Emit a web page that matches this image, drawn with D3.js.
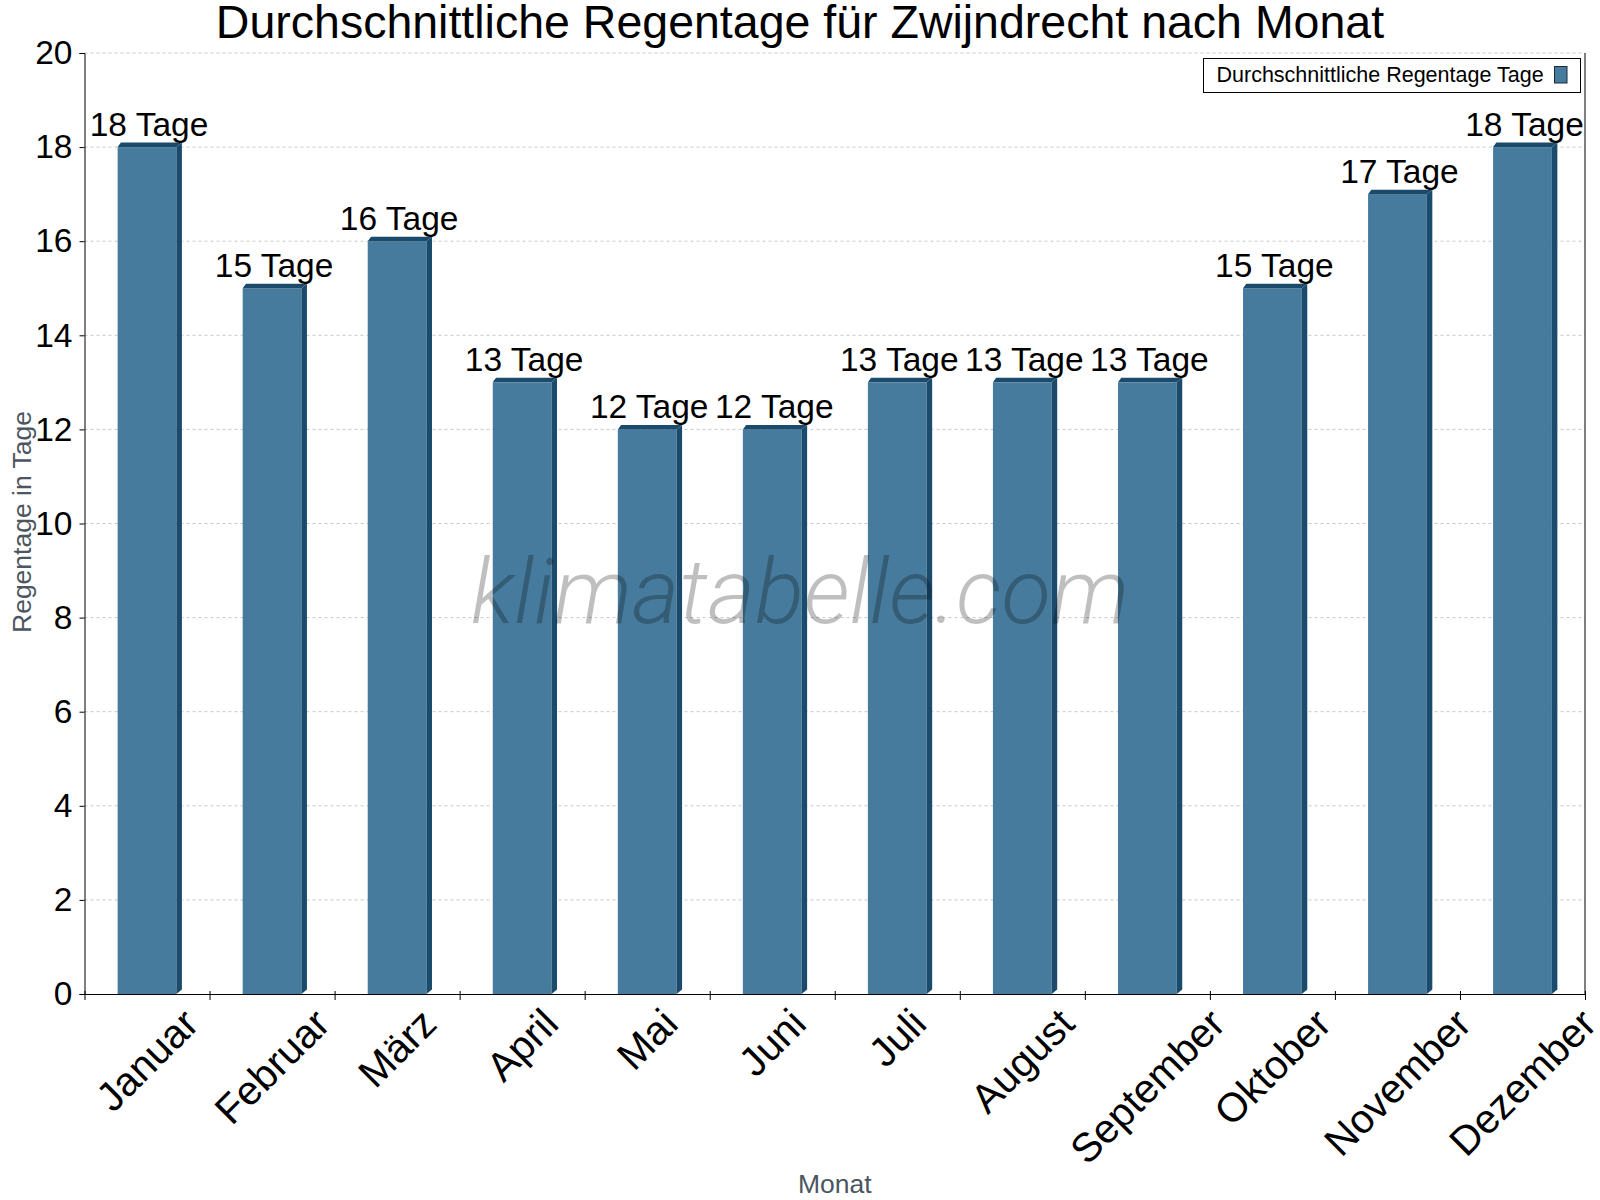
<!DOCTYPE html>
<html>
<head>
<meta charset="utf-8">
<script src="https://cdn.jsdelivr.net/npm/d3@7"></script>
<style>
  body { margin: 0; background: #fff; }
  text { font-family: "Liberation Sans", Arial, sans-serif; }
</style>
</head>
<body>
<svg id="chart"></svg>
<script>
// data
const months = ["Januar", "Februar", "März", "April", "Mai", "Juni", "Juli", "August", "September", "Oktober", "November", "Dezember"];
const rainDays = [18, 15, 16, 13, 12, 12, 13, 13, 13, 15, 17, 18];
const yTicks = [0, 2, 4, 6, 8, 10, 12, 14, 16, 18, 20];
const seriesName = "Durchschnittliche Regentage Tage";

const width = 1600, height = 1200;
const plotLeft = 84.5, plotRight = 1585, plotTop = 53, plotBottom = 994;

const svg = d3.select("#chart").attr("width", width).attr("height", height);

const x = d3.scaleBand().domain(months).range([plotLeft, plotRight]).padding(0);
const xi = d3.scaleLinear().domain([0, months.length]).range([plotLeft, plotRight]);
const y = d3.scaleLinear().domain([0, 20]).range([plotBottom, plotTop]);

const barW = x.bandwidth() * 0.47;
const dx = 5.5, dy = 4.5;   // 3d offset

// grid
svg.append("g").selectAll("line")
  .data(yTicks.filter(d => d > 0))
  .join("line")
  .attr("x1", plotLeft).attr("x2", plotRight)
  .attr("y1", d => y(d)).attr("y2", d => y(d))
  .attr("stroke", "#c8c8c8").attr("stroke-dasharray", "3,3");

// bars
const bars = svg.append("g").selectAll("g").data(rainDays).join("g");
const fl = (d, i) => x(months[i]) + x.bandwidth() / 2 - barW / 2;

bars.append("rect")
  .attr("x", fl)
  .attr("y", d => y(d))
  .attr("width", barW)
  .attr("height", d => plotBottom - y(d))
  .attr("fill", "#467b9d");

bars.append("polygon")
  .attr("points", (d, i) => {
    const r = fl(d, i) + barW, t = y(d);
    return [[r, t], [r + dx, t - dy], [r + dx, plotBottom - dy], [r, plotBottom]].join(" ");
  })
  .attr("fill", "#1a4b6c");

bars.append("polygon")
  .attr("points", (d, i) => {
    const l = fl(d, i), r = l + barW, t = y(d);
    return [[l, t], [l + dx * 0.6, t - dy], [r + dx, t - dy], [r, t]].join(" ");
  })
  .attr("fill", "#1a4b6c");

// value labels
svg.append("g").selectAll("text").data(rainDays).join("text")
  .attr("x", (d, i) => x(months[i]) + x.bandwidth() / 2 + 2)
  .attr("y", d => y(d) - 11)
  .attr("text-anchor", "middle")
  .attr("font-size", 33.5)
  .attr("fill", "#000")
  .text(d => d + " Tage");

// y axis
const yAxis = svg.append("g")
  .attr("transform", `translate(${plotLeft},0)`)
  .call(d3.axisLeft(y).tickValues(yTicks).tickSize(5).tickPadding(7));
yAxis.selectAll("text").attr("font-size", 33.5).attr("fill", "#000")
  .style("font-family", '"Liberation Sans", Arial, sans-serif');
yAxis.selectAll("line, path").attr("stroke", "#000");

// right border line
svg.append("line")
  .attr("x1", plotRight).attr("x2", plotRight).attr("y1", plotTop).attr("y2", plotBottom)
  .attr("stroke", "#000");

// x axis with ticks on band edges
const xAxis = svg.append("g")
  .attr("transform", `translate(0,${plotBottom})`)
  .call(d3.axisBottom(xi).ticks(months.length).tickFormat("").tickSize(6).tickSizeOuter(0));
xAxis.selectAll("line").attr("y1", -3).attr("stroke", "#000");
xAxis.select("path").attr("stroke", "#000");

// rotated month labels, rotated box centred under the band
months.forEach(m => {
  const g = svg.append("g");
  g.append("text")
    .attr("text-anchor", "middle")
    .attr("transform", "rotate(-45)")
    .attr("font-size", 40.5)
    .attr("fill", "#000")
    .text(m);
  const bb = g.node().getBBox();
  g.attr("transform", `translate(${x(m) + x.bandwidth() / 2 - (bb.x + bb.width / 2)},${1000 - bb.y})`);
});

// axis titles
svg.append("text")
  .attr("transform", `translate(31,522) rotate(-90)`)
  .attr("text-anchor", "middle")
  .attr("font-size", 26.5)
  .attr("fill", "#4b5660")
  .text("Regentage in Tage");

svg.append("text")
  .attr("x", (plotLeft + plotRight) / 2).attr("y", 1193)
  .attr("text-anchor", "middle")
  .attr("font-size", 26.5)
  .attr("fill", "#4b5660")
  .text("Monat");

// title
svg.append("text")
  .attr("x", 800).attr("y", 38)
  .attr("text-anchor", "middle")
  .attr("font-size", 46.5)
  .attr("fill", "#000")
  .text("Durchschnittliche Regentage für Zwijndrecht nach Monat");

// legend
const lg = svg.append("g");
lg.append("rect")
  .attr("x", 1203.5).attr("y", 58.5).attr("width", 377).attr("height", 34)
  .attr("fill", "#fff").attr("stroke", "#000");
lg.append("text")
  .attr("x", 1216.5).attr("y", 81.5)
  .attr("font-size", 21.5)
  .attr("fill", "#000")
  .text(seriesName);
lg.append("rect")
  .attr("x", 1554.5).attr("y", 66.5).attr("width", 12.5).attr("height", 16.5)
  .attr("fill", "#467b9d").attr("stroke", "#1a2a36");

// watermark
svg.append("text")
  .attr("x", 800).attr("y", 623)
  .attr("text-anchor", "middle")
  .attr("font-size", 91)
  .attr("font-style", "italic")
  .attr("font-weight", 300)
  .style("font-family", "Roboto, sans-serif")
  .attr("fill", "#000")
  .attr("fill-opacity", 0.25)
  .text("klimatabelle.com");
</script>
</body>
</html>
